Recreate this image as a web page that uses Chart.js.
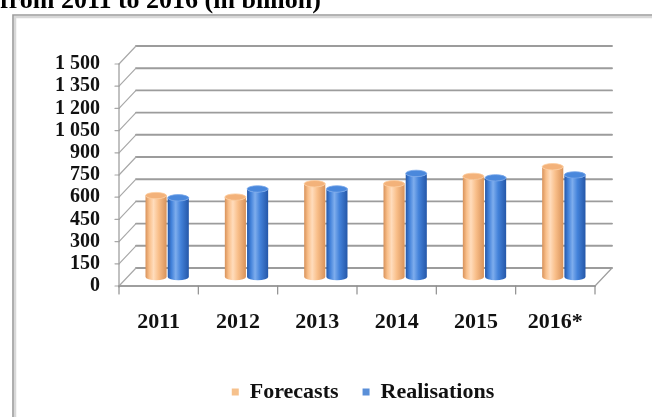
<!DOCTYPE html>
<html>
<head>
<meta charset="utf-8">
<script src="https://cdn.jsdelivr.net/npm/chart.js@4.4.1/dist/chart.umd.min.js"></script>
<style>
  html, body { margin: 0; padding: 0; background: #fff; overflow: hidden; }
  canvas { display: block; }
</style>
</head>
<body>
<canvas id="c" width="652" height="417"></canvas>
<script>
// ---- data ----
const titleText = 'from 2011 to 2016 (in billion)';
const categories = ['2011', '2012', '2013', '2014', '2015', '2016*'];
const seriesNames = ['Forecasts', 'Realisations'];
const forecasts = [550, 540, 630, 630, 680, 745];
const realisations = [535, 595, 595, 700, 670, 690];
const yTickLabels = ['0', '150', '300', '450', '600', '750', '900', '1 050', '1 200', '1 350', '1 500'];
const yMin = 0, yMax = 1500, yStep = 150;

// ---- style ----
const FONT = '"Liberation Serif", "Times New Roman", serif';
const DX = 17, DY = -18;           // depth offset of back wall
const palettes = [
  { dark: '#d8925a', mid: '#f9bf8a', light: '#ffdcbc', cap: '#f3b27a', capRim: '#fccb9c' },
  { dark: '#2557a8', mid: '#4382da', light: '#7eaded', cap: '#4a88dc', capRim: '#76a6ea' }
];
const legendColors = ['#f6c18c', '#5a8fd8'];

function line(ctx, x1, y1, x2, y2) {
  ctx.beginPath(); ctx.moveTo(x1, y1); ctx.lineTo(x2, y2); ctx.stroke();
}

function cylinder(ctx, cx, w, top, base, p) {
  const l = cx - w / 2, r = cx + w / 2, ry = 3.2;
  const g = ctx.createLinearGradient(l, 0, r, 0);
  g.addColorStop(0, p.dark);
  g.addColorStop(0.18, p.mid);
  g.addColorStop(0.38, p.light);
  g.addColorStop(0.62, p.mid);
  g.addColorStop(1, p.dark);
  ctx.fillStyle = g;
  ctx.beginPath();
  ctx.moveTo(l, top);
  ctx.lineTo(l, base);
  ctx.ellipse(cx, base, w / 2, ry, 0, Math.PI, 0, true);
  ctx.lineTo(r, top);
  ctx.ellipse(cx, top, w / 2, ry, 0, 0, Math.PI, false);
  ctx.closePath();
  ctx.fill();
  ctx.beginPath();
  ctx.ellipse(cx, top, w / 2, ry, 0, 0, Math.PI * 2);
  ctx.fillStyle = p.cap;
  ctx.fill();
  ctx.strokeStyle = p.capRim;
  ctx.lineWidth = 0.8;
  ctx.stroke();
}

const deco = {
  id: 'deco',
  beforeDraw(chart) {
    const ctx = chart.ctx;
    ctx.save();
    ctx.fillStyle = '#fff';
    ctx.fillRect(0, 0, chart.width, chart.height);
    // cut-off title
    ctx.fillStyle = '#000';
    ctx.font = 'bold 26px ' + FONT;
    ctx.textAlign = 'left';
    ctx.textBaseline = 'alphabetic';
    ctx.fillText(titleText, 0, 8);
    // outer frame: only top and left edges are in view
    ctx.lineCap = 'butt';
    ctx.strokeStyle = '#d8d8d8';
    ctx.lineWidth = 2.5;
    ctx.beginPath();
    ctx.moveTo(15, chart.height + 5); ctx.lineTo(15, 17); ctx.lineTo(chart.width + 5, 17);
    ctx.stroke();
    ctx.strokeStyle = '#9c9c9c';
    ctx.lineWidth = 1.6;
    ctx.beginPath();
    ctx.moveTo(13, chart.height + 5); ctx.lineTo(13, 15); ctx.lineTo(chart.width + 5, 15);
    ctx.stroke();
    ctx.restore();
  },
  afterLayout(chart) {
    const lg = chart.legend;
    if (lg) { lg.left += 38; lg.right += 38; }
  },
  beforeDatasetsDraw(chart) {
    const ctx = chart.ctx, a = chart.chartArea;
    const ys = chart.scales.y, xs = chart.scales.x;
    const y0 = ys.getPixelForValue(yMin);
    const yTop = ys.getPixelForValue(yMax);
    ctx.save();
    ctx.lineCap = 'round';
    ys.ticks.forEach(t => {
      const y = ys.getPixelForValue(t.value);
      ctx.strokeStyle = '#9c9c9c';
      ctx.lineWidth = 1.9;
      line(ctx, a.left + DX, y + DY, a.right + DX, y + DY);
      ctx.lineWidth = 1.2;
      ctx.strokeStyle = '#a8a8a8';
      line(ctx, a.left, y, a.left + DX, y + DY);
      line(ctx, a.left - 4, y, a.left, y);
    });
    ctx.strokeStyle = '#a0a0a0';
    ctx.lineWidth = 1.3;
    line(ctx, a.left, yTop, a.left, y0 + 1);
    ctx.strokeStyle = '#9e9e9e';
    ctx.lineWidth = 1.8;
    line(ctx, a.left, y0, a.right, y0);
    ctx.lineWidth = 1.2;
    line(ctx, a.right, y0, a.right + DX, y0 + DY);
    const n = categories.length;
    const slot = (a.right - a.left) / n;
    ctx.strokeStyle = '#8e8e8e';
    for (let i = 0; i <= n; i++) {
      const x = (i < n ? xs.getPixelForTick(i) - slot / 2 : xs.getPixelForTick(n - 1) + slot / 2);
      line(ctx, x, y0, x, y0 + 8);
    }
    chart.data.datasets.forEach((ds, di) => {
      const meta = chart.getDatasetMeta(di);
      meta.data.forEach(el => {
        const { x, y, base, width } = el.getProps(['x', 'y', 'base', 'width'], true);
        cylinder(ctx, x + DX / 2, width, y + DY / 2, base + DY / 2, palettes[di]);
      });
    });
    ctx.restore();
    return false;
  }
};

new Chart(document.getElementById('c'), {
  type: 'bar',
  data: {
    labels: categories,
    datasets: [
      { label: seriesNames[0], data: forecasts, backgroundColor: legendColors[0], borderWidth: 0,
        categoryPercentage: 0.56, barPercentage: 0.95 },
      { label: seriesNames[1], data: realisations, backgroundColor: legendColors[1], borderWidth: 0,
        categoryPercentage: 0.56, barPercentage: 0.95 }
    ]
  },
  options: {
    responsive: false,
    animation: false,
    devicePixelRatio: 1,
    layout: { padding: { left: 55, right: 57, top: 64, bottom: 4 } },
    plugins: {
      title: { display: false },
      tooltip: { enabled: false },
      legend: {
        display: true,
        position: 'bottom',
        labels: {
          boxWidth: 7, boxHeight: 7, padding: 24, color: '#111',
          font: { family: FONT, size: 22, weight: 'bold' }
        }
      }
    },
    scales: {
      x: {
        grid: { display: false, drawTicks: false },
        border: { display: false },
        ticks: { color: '#111', padding: 23, font: { family: FONT, size: 22, weight: 'bold' } },
        afterFit(s) { s.height = 71; }
      },
      y: {
        min: yMin, max: yMax,
        grid: { display: false, drawTicks: false },
        border: { display: false },
        ticks: {
          stepSize: yStep, color: '#111', padding: 19, autoSkip: false,
          font: { family: FONT, size: 20, weight: 'bold', lineHeight: 1 },
          callback: (v, i) => yTickLabels[i]
        },
        afterFit(s) { s.width = 64; }
      }
    }
  },
  plugins: [deco]
});
</script>
</body>
</html>
